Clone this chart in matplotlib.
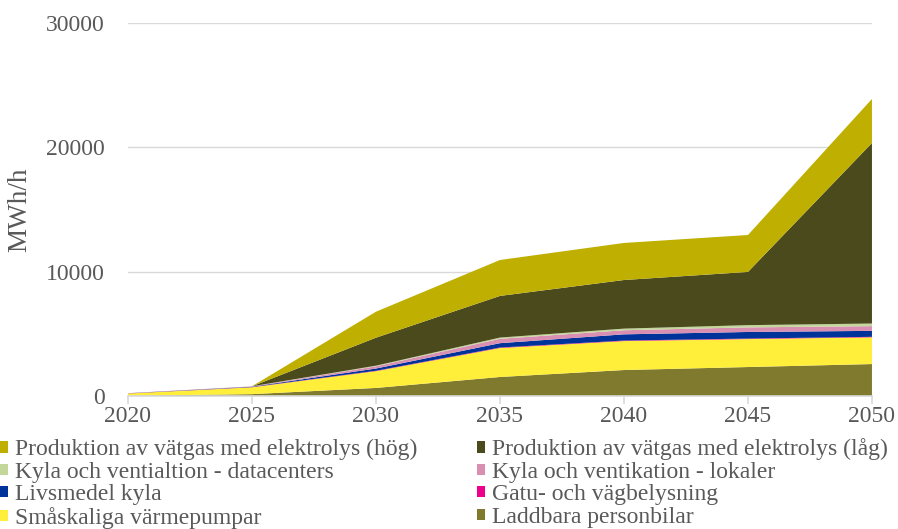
import matplotlib.pyplot as plt
from matplotlib.patches import Patch

plt.rcParams['font.family'] = ['Liberation Serif', 'DejaVu Serif']

years = [2020, 2025, 2030, 2035, 2040, 2045, 2050]

# lager nerifrån och upp (MWh/h)
laddbara = [20, 150, 650, 1530, 2090, 2330, 2570]
smaskaliga = [180, 550, 1350, 2330, 2330, 2250, 2150]
gatu = [10, 20, 30, 40, 40, 40, 40]
livsmedel = [10, 30, 180, 350, 500, 530, 480]
lokaler = [10, 20, 180, 350, 330, 370, 380]
datacenters = [0, 10, 50, 100, 130, 180, 210]
vatgas_lag = [0, 0, 2250, 3350, 3910, 4280, 14520]
vatgas_hog = [0, 0, 2090, 2890, 2980, 2970, 3540]

labels = [
    "Laddbara personbilar",
    "Småskaliga värmepumpar",
    "Gatu- och vägbelysning",
    "Livsmedel kyla",
    "Kyla och ventikation - lokaler",
    "Kyla och ventialtion - datacenters",
    "Produktion av vätgas med elektrolys (låg)",
    "Produktion av vätgas med elektrolys (hög)",
]
colors = ["#7F7A2E", "#FFEE3A", "#EC008C", "#003399",
          "#D88FB2", "#C4D79B", "#4B4A1C", "#BFAF00"]

fig = plt.figure(figsize=(8.98, 5.29), dpi=100)
ax = fig.add_axes([0.1425, 0.2514, 0.8285, 0.7051])

ax.stackplot(years, laddbara, smaskaliga, gatu, livsmedel, lokaler,
             datacenters, vatgas_lag, vatgas_hog, colors=colors, lw=0)

ax.set_xlim(2020, 2050)
ax.set_ylim(0, 30000)
ax.set_xticks(years)
ax.set_yticks([0, 10000, 20000, 30000])
ax.grid(axis='y', color='#D9D9D9', lw=1)
ax.set_axisbelow(True)
for s in ['top', 'right', 'left']:
    ax.spines[s].set_visible(False)
ax.spines['bottom'].set_color('#D9D9D9')
ax.spines['bottom'].set_linewidth(1.2)
ax.tick_params(axis='y', length=0, pad=16.5, labelsize=17, labelcolor='#595959')
ax.tick_params(axis='x', length=6, color='#D9D9D9', width=1.2,
               labelsize=17, labelcolor='#595959', pad=1)
ax.set_ylabel("MWh/h", fontsize=19.5, color='#595959')
ax.yaxis.set_label_coords(-0.128, 0.5)

# legend ordning som i originalet (två kolumner)
order = [7, 5, 3, 1, 6, 4, 2, 0]
handles = [Patch(facecolor=colors[i]) for i in order]
fig.legend(handles, [labels[i] for i in order], ncol=2,
           loc='upper left', bbox_to_anchor=(0.0, 0.171),
           frameon=False, fontsize=17, handlelength=0.35, handleheight=0.35,
           handletextpad=0.3, columnspacing=2.5, labelspacing=0.06,
           borderaxespad=0, borderpad=0, labelcolor='#595959')

fig.savefig("out.png", dpi=100)
